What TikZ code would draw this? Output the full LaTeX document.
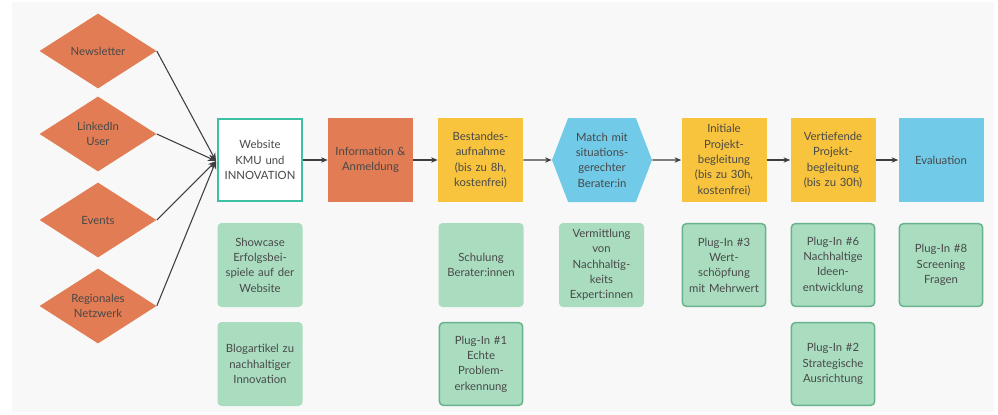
\documentclass[tikz,border=0pt]{standalone}
\usepackage{fontspec}
\setmainfont{Lato}
\usepackage{tikz}
\usetikzlibrary{shapes.geometric, shapes.symbols, arrows.meta, positioning}
\definecolor{bgpanel}{RGB}{248,248,248}
\definecolor{txtdark}{RGB}{72,72,72}
\definecolor{linedark}{RGB}{62,62,66}
\definecolor{myorange}{RGB}{226,124,84}
\definecolor{myyellow}{RGB}{248,196,62}
\definecolor{myblue}{RGB}{112,202,232}
\definecolor{mygreen}{RGB}{170,221,192}
\definecolor{greenframe}{RGB}{104,178,142}
\definecolor{tealframe}{RGB}{62,192,162}
\tikzset{
  channel/.style={diamond, fill=myorange, draw=none, aspect=1.56,
    minimum width=87.75pt, minimum height=56.25pt, inner sep=0pt,
    align=center, font=\fontsize{8.5}{11.5}\selectfont, text=txtdark},
  stage/.style={rectangle, draw=none, minimum width=63.75pt,
    minimum height=63pt, text width=60pt, align=center, inner sep=0pt,
    font=\fontsize{8.5}{11.5}\selectfont, text=txtdark},
  webbox/.style={stage, fill=white, draw=tealframe, line width=1.3pt,
    minimum width=62.5pt, minimum height=62pt},
  matchbox/.style={signal, signal to=east and west, signal pointer angle=138,
    fill=myblue, draw=none, minimum width=75pt, minimum height=63pt,
    text width=50pt, align=center, inner sep=0pt,
    font=\fontsize{8.5}{11.5}\selectfont, text=txtdark},
  measure/.style={rectangle, rounded corners=3pt, fill=mygreen, draw=none,
    minimum width=63.75pt, minimum height=63pt, text width=60pt,
    align=center, inner sep=0pt,
    font=\fontsize{8.5}{11.5}\selectfont, text=txtdark},
  plugin/.style={measure, draw=greenframe, line width=1.1pt,
    minimum width=62.5pt, minimum height=62pt},
  arrow/.style={-{Stealth[length=5pt,width=4pt]}, line width=0.9pt, color=linedark},
  feed/.style={-{Stealth[length=6pt,width=5pt]}, line width=0.8pt, color=linedark}
}
\begin{document}
\begin{tikzpicture}[x=0.75pt, y=-0.75pt]
  % ── canvas ────────────────────────────────────────────────────────────────
  \useasboundingbox (0,0) rectangle (998,414);
  \fill[white] (0,0) rectangle (998,414);
  \fill[bgpanel] (12,2) rectangle (994,412);

  % ── channels (left) ───────────────────────────────────────────────────────
  \node[channel] (news)   at (98,51)  {Newsletter};
  \node[channel] (linked) at (98,134) {LinkedIn\\User};
  \node[channel] (events) at (98,220) {Events};
  \node[channel] (netz)   at (98,306) {Regionales\\Netzwerk};

  % ── process row ───────────────────────────────────────────────────────────
  \node[webbox] (web) at (260,160) {Website\\KMU und\\INNOVATION};
  \coordinate (junc) at (216,161);
  \node[stage, fill=myorange] (info) at (370.5,160) {Information \&\\Anmeldung};
  \node[stage, fill=myyellow] (bestand) at (480.5,160) {Bestandes-\\aufnahme\\(bis zu 8h,\\kostenfrei)};
  \node[matchbox] (match) at (602,160) {Match mit\\situations-\\gerechter\\Berater:in};
  \node[stage, fill=myyellow] (initial) at (724,160) {Initiale\\Projekt-\\begleitung\\(bis zu 30h,\\kostenfrei)};
  \node[stage, fill=myyellow] (vertief) at (833,160) {Vertiefende\\Projekt-\\begleitung\\(bis zu 30h)};
  \node[stage, fill=myblue] (eval) at (941,160) {Evaluation};

  % ── measures / plug-ins ───────────────────────────────────────────────────
  \node[measure] (showcase) at (260,265) {Showcase\\Erfolgsbei-\\spiele auf der\\Website};
  \node[measure] (blog)     at (260,364) {Blogartikel zu\\nachhaltiger\\Innovation};
  \node[measure] (schulung) at (481,265) {Schulung\\Berater:innen};
  \node[plugin]  (pone)     at (481,364) {Plug-In \#1\\Echte\\Problem-\\erkennung};
  \node[measure] (vermitt)  at (601.5,265) {Vermittlung\\von\\Nachhaltig-\\keits\\Expert:innen};
  \node[plugin]  (pthree)   at (724,265) {Plug-In \#3\\Wert-\\schöpfung\\mit Mehrwert};
  \node[plugin]  (psix)     at (833,265) {Plug-In \#6\\Nachhaltige\\Ideen-\\entwicklung};
  \node[plugin]  (peight)   at (941,265) {Plug-In \#8\\Screening\\Fragen};
  \node[plugin]  (ptwo)     at (833,364) {Plug-In \#2\\Strategische\\Ausrichtung};

  % ── connectors ────────────────────────────────────────────────────────────
  \foreach \src in {news, linked, events, netz}
    \draw[feed] (\src.east) -- (junc);
  \draw[arrow] (web) -- (info);
  \draw[arrow] (info) -- (bestand);
  \draw[arrow] (bestand) -- (match);
  \draw[arrow] (match) -- (initial);
  \draw[arrow] (initial) -- (vertief);
  \draw[arrow] (vertief) -- (eval);
\end{tikzpicture}
\end{document}
